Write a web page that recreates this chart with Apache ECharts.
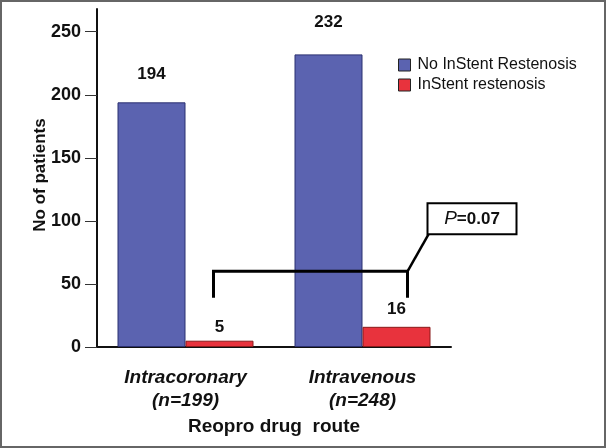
<!DOCTYPE html>
<html>
<head>
<meta charset="utf-8">
<script src="https://cdn.jsdelivr.net/npm/echarts@6/dist/echarts.min.js"></script>
<style>
html,body{margin:0;padding:0;background:#fff;}
#c{width:606px;height:448px;}
</style>
</head>
<body>
<div id="c"></div>
<script>
const categories = ['Intracoronary\n(n=199)', 'Intravenous\n(n=248)'];
const seriesNames = ['No InStent Restenosis', 'InStent restenosis'];
const noRestenosis = [194, 232];
const restenosis = [5, 16];
const yTicks = [0, 50, 100, 150, 200, 250];
const pText = '=0.07';

const chart = echarts.init(document.getElementById('c'), null, {renderer: 'canvas'});
const FONT = 'Liberation Sans, Arial, sans-serif';

const option = {
  animation: false,
  backgroundColor: '#fff',
  grid: {left: 97, width: 354, top: 9, bottom: 101},
  legend: {
    orient: 'vertical', left: 393, top: 52, itemWidth: 12, itemHeight: 12, itemGap: 4,
    icon: 'rect',
    itemStyle: {borderColor: '#222', borderWidth: 1},
    textStyle: {fontFamily: FONT, fontSize: 16, color: '#111', padding: [0,0,0,2]},
    data: seriesNames
  },
  xAxis: {
    type: 'category', data: categories,
    axisLine: {lineStyle: {color: '#111', width: 2}},
    axisTick: {alignWithLabel: true, length: 15, lineStyle: {color: '#333', width: 1}},
    axisLabel: {fontFamily: FONT, fontSize: 19, fontStyle: 'italic', fontWeight: 'bold', color: '#111', lineHeight: 23, margin: 19},
    name: 'Reopro drug  route', nameLocation: 'middle', nameGap: 69,
    nameTextStyle: {fontFamily: FONT, fontSize: 19, fontWeight: 'bold', color: '#111'}
  },
  yAxis: {
    type: 'value', min: 0, max: 268,
    splitLine: {show: false},
    axisLine: {show: true, lineStyle: {color: '#111', width: 2}},
    axisTick: {show: true, length: 12, customValues: yTicks, lineStyle: {color: '#333', width: 1}},
    axisLabel: {customValues: yTicks, fontFamily: FONT, fontSize: 18, fontWeight: 'bold', color: '#111', margin: 16},
    name: 'No of patients', nameLocation: 'middle', nameGap: 48, nameMoveOverlap: false,
    nameTextStyle: {fontFamily: FONT, fontSize: 17, fontWeight: 'bold', color: '#111', padding: [0, 0, 0, 6]}
  },
  series: [
    {
      name: seriesNames[0], type: 'bar', barWidth: 68, barGap: '0%',
      itemStyle: {color: '#5b63b0', borderColor: '#2b3070', borderWidth: 1},
      label: {show: true, position: 'top', fontFamily: FONT, fontSize: 17, fontWeight: 'bold', color: '#111'},
      data: noRestenosis.map((v, i) => ({value: v, label: {distance: [20, 24][i]}}))
    },
    {
      name: seriesNames[1], type: 'bar', barWidth: 68,
      itemStyle: {color: '#e8333d', borderColor: '#8a1a1a', borderWidth: 1},
      label: {show: true, position: 'top', fontFamily: FONT, fontSize: 17, fontWeight: 'bold', color: '#111'},
      data: restenosis.map((v, i) => ({value: v, label: {distance: [5, 9][i]}}))
    }
  ]
};
chart.setOption(option);

// Significance bracket annotation, positioned from the axes
const yTop = chart.convertToPixel({yAxisIndex: 0}, 60);
const yLeg = chart.convertToPixel({yAxisIndex: 0}, 39);
const c0 = chart.convertToPixel({xAxisIndex: 0}, 0);
const c1 = chart.convertToPixel({xAxisIndex: 0}, 1);
const xl = c0 + 28, xr = c1 + 45;
const boxX = xr + 20, boxY = yTop - 68, boxW = 89, boxH = 31;
chart.setOption({
  graphic: [
    {type: 'rect', z: 100, shape: {x: 1, y: 1, width: 604, height: 446}, style: {fill: 'none', stroke: '#666', lineWidth: 2}, silent: true},
    {type: 'polyline', z: 100, shape: {points: [[xl, yLeg], [xl, yTop], [xr, yTop], [xr, yLeg]]}, style: {stroke: '#000', lineWidth: 3, fill: 'none'}},
    {type: 'line', z: 100, shape: {x1: xr, y1: yTop, x2: boxX + 1, y2: boxY + boxH}, style: {stroke: '#000', lineWidth: 2.5}},
    {type: 'rect', z: 100, shape: {x: boxX, y: boxY, width: boxW, height: boxH}, style: {fill: '#fff', stroke: '#000', lineWidth: 2}},
    {type: 'text', z: 101, x: boxX + boxW / 2, y: boxY + boxH / 2,
      style: {text: '{p|P}{r|' + pText + '}', align: 'center', verticalAlign: 'middle',
        rich: {p: {fontFamily: FONT, fontSize: 19, fontStyle: 'italic', fill: '#111'}, r: {fontFamily: FONT, fontSize: 17, fontWeight: 'bold', fill: '#111'}}}}
  ]
});
</script>
</body>
</html>
